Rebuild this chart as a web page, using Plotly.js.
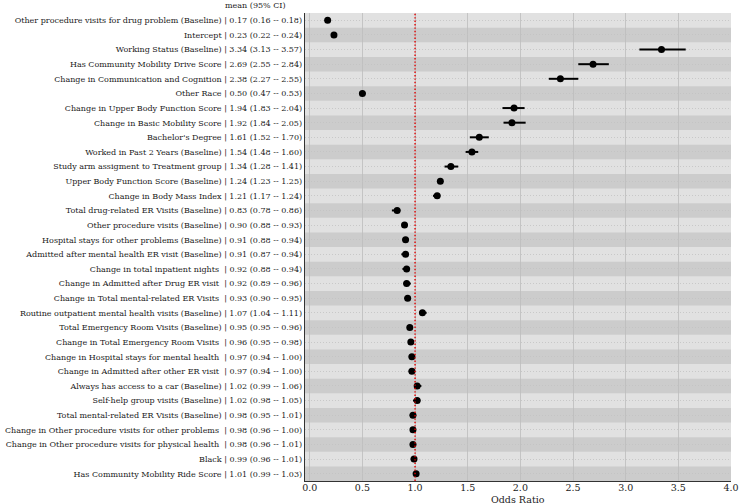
<!DOCTYPE html>
<html>
<head>
<meta charset="utf-8">
<script src="https://cdn.plot.ly/plotly-3.0.1.min.js"></script>
<style>html,body{margin:0;padding:0;background:#fff;}#chart{width:739px;height:504px;}</style>
</head>
<body>
<div id="chart"></div>
<script>
const labels = [
  "Other procedure visits for drug problem (Baseline)",
  "Intercept",
  "Working Status (Baseline)",
  "Has Community Mobility Drive Score",
  "Change in Communication and Cognition",
  "Other Race",
  "Change in Upper Body Function Score",
  "Change in Basic Mobility Score",
  "Bachelor's Degree",
  "Worked in Past 2 Years (Baseline)",
  "Study arm assigment to Treatment group",
  "Upper Body Function Score (Baseline)",
  "Change in Body Mass Index",
  "Total drug-related ER Visits (Baseline)",
  "Other procedure visits (Baseline)",
  "Hospital stays for other problems (Baseline)",
  "Admitted after mental health ER visit (Baseline)",
  "Change in total inpatient nights ",
  "Change in Admitted after Drug ER visit ",
  "Change in Total mental-related ER Visits ",
  "Routine outpatient mental health visits (Baseline)",
  "Total Emergency Room Visits (Baseline)",
  "Change in Total Emergency Room Visits ",
  "Change in Hospital stays for mental health ",
  "Change in Admitted after other ER visit ",
  "Always has access to a car (Baseline)",
  "Self-help group visits (Baseline)",
  "Total mental-related ER Visits (Baseline)",
  "Change in Other procedure visits for other problems ",
  "Change in Other procedure visits for physical health ",
  "Black",
  "Has Community Mobility Ride Score"
];
const means = [0.17,0.23,3.34,2.69,2.38,0.50,1.94,1.92,1.61,1.54,1.34,1.24,1.21,0.83,0.90,0.91,0.91,0.92,0.92,0.93,1.07,0.95,0.96,0.97,0.97,1.02,1.02,0.98,0.98,0.98,0.99,1.01];
const lower = [0.16,0.22,3.13,2.55,2.27,0.47,1.83,1.84,1.52,1.48,1.28,1.23,1.17,0.78,0.88,0.88,0.87,0.88,0.89,0.90,1.04,0.95,0.95,0.94,0.94,0.99,0.98,0.95,0.96,0.96,0.96,0.99];
const upper = [0.18,0.24,3.57,2.84,2.55,0.53,2.04,2.05,1.70,1.60,1.41,1.25,1.24,0.86,0.93,0.94,0.94,0.94,0.96,0.95,1.11,0.96,0.98,1.00,1.00,1.06,1.05,1.01,1.00,1.01,1.01,1.03];
const xTicks = [0.0,0.5,1.0,1.5,2.0,2.5,3.0,3.5,4.0];
const refLine = 1.0;

const fmt = v => v.toFixed(2);
const tickText = labels.map((l,i) => l.replace(/ /g,'\u00a0') + '\u00a0|\u00a0' + fmt(means[i]) + '\u00a0(' + fmt(lower[i]) + '\u00a0--\u00a0' + fmt(upper[i]) + ')');
const rows = labels.map((_,i)=>i);

const shapes = [];
rows.forEach(i => {
  if (i % 2 === 1) {
    shapes.push({type:'rect', xref:'paper', yref:'y', x0:0, x1:1, y0:i-0.5, y1:i+0.5,
      fillcolor:'#cccccc', line:{width:0}, layer:'below'});
  }
});
shapes.push({type:'line', xref:'x', yref:'paper', x0:refLine, x1:refLine, y0:0, y1:1,
  line:{color:'#e00000', width:1.4, dash:'1.4px,2px'}, layer:'above'});

const trace = {
  type:'scatter', mode:'markers',
  x: means, y: rows,
  error_x: {type:'data', symmetric:false,
    array: upper.map((u,i)=>u-means[i]),
    arrayminus: means.map((m,i)=>m-lower[i]),
    color:'#000', thickness:2, width:0},
  marker:{color:'#000', size:7},
  hoverinfo:'skip'
};

const plotH = 504 - 13 - 23;
const layout = {
  width:739, height:504,
  margin:{l:305, r:8, t:13, b:23, pad:0},
  paper_bgcolor:'#ffffff', plot_bgcolor:'#e1e1e1',
  showlegend:false,
  font:{family:'DejaVu Serif', color:'#1a1a1a', size:8},
  xaxis:{range:[-0.045,4.0], tickvals:xTicks, ticktext:xTicks.map(v=>v.toFixed(1)),
    showgrid:true, gridcolor:'#bdbdbd', gridwidth:0.8, zeroline:false,
    showline:true, linecolor:'#333', linewidth:1.3, ticks:'', ticklabelstandoff:-3,
    ticklabeloverflow:'allow',
    tickfont:{family:'DejaVu Serif', size:9.5, color:'#1a1a1a'},
    fixedrange:true},
  yaxis:{range:[31.5,-0.5], tickvals:rows, ticktext:tickText,
    showgrid:true, gridcolor:'#c2c2c2', griddash:'1px,2px', gridwidth:0.8, zeroline:false,
    showline:true, linecolor:'#333', linewidth:1.3, ticks:'outside', ticklen:0,
    ticklabeloverflow:'allow',
    tickfont:{family:'DejaVu Serif', size:8, color:'#1a1a1a'}, fixedrange:true},
  shapes: shapes,
  annotations:[
    {text:'mean (95% CI)', xref:'paper', yref:'paper', x:-0.04, y:1 + 8/plotH,
      xanchor:'right', yanchor:'middle', showarrow:false,
      font:{family:'DejaVu Serif', size:8, color:'#1a1a1a'}},
    {text:'Odds Ratio', xref:'paper', yref:'paper', x:0.5, y:-(499 - 481) / plotH,
      xanchor:'center', yanchor:'middle', showarrow:false,
      font:{family:'DejaVu Serif', size:9.5, color:'#1a1a1a'}}
  ]
};

Plotly.newPlot('chart', [trace], layout, {staticPlot:true, displayModeBar:false});
</script>
</body>
</html>
